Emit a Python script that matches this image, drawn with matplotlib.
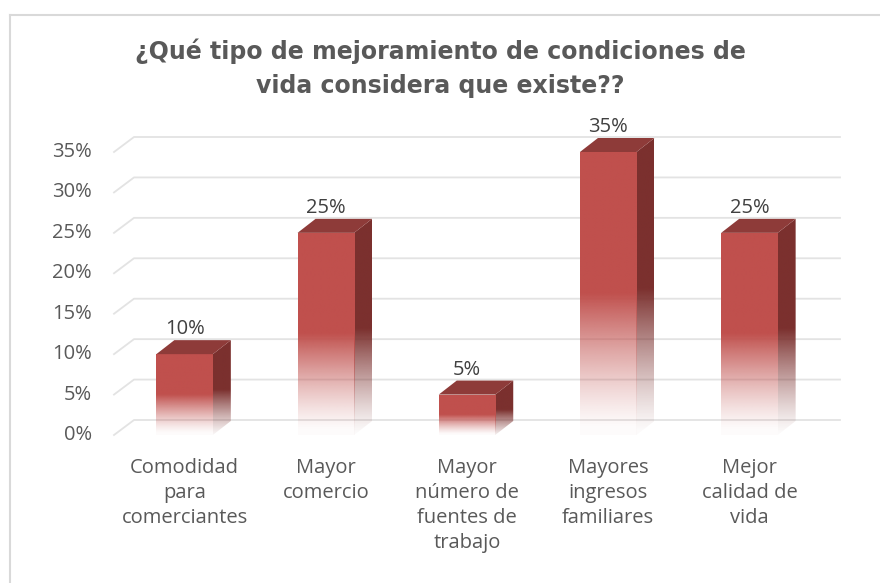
import numpy as np
import matplotlib
matplotlib.use('Agg')
import matplotlib.pyplot as plt
from matplotlib.patches import Polygon, Rectangle
from matplotlib.colors import to_rgb

categories = ["Comodidad\npara\ncomerciantes", "Mayor\ncomercio",
              "Mayor\nnúmero de\nfuentes de\ntrabajo",
              "Mayores\ningresos\nfamiliares", "Mejor\ncalidad de\nvida"]
values = [0.10, 0.25, 0.05, 0.35, 0.25]
value_labels = ["10%", "25%", "5%", "35%", "25%"]
yticks = [0, 0.05, 0.10, 0.15, 0.20, 0.25, 0.30, 0.35]
ytick_labels = ["0%", "5%", "10%", "15%", "20%", "25%", "30%", "35%"]
title = "¿Qué tipo de mejoramiento de condiciones de\nvida considera que existe??"

front_col = "#C0504D"
side_col = "#7B302E"
top_col = "#8E3B39"
grid_col = "#E3E3E3"
text_col = "#595959"

W, H = 880, 583
ymax = 0.40
ax_h = 283 * ymax / 0.35
fig = plt.figure(figsize=(W / 100, H / 100), dpi=100)
ax = fig.add_axes([114 / W, (H - 435) / H, 706 / W, ax_h / H])
ax.set_xlim(-0.5, 4.5)
ax.set_ylim(0, ymax)
ax.axis('off')

# data units per pixel
px = 5 / 706
py = 0.35 / 283
wall_dx, wall_dy = 20 * px, 15 * py
bar_dx, bar_dy = 18 * px, 14 * py
bar_w = 0.40

# back wall gridlines
for t in yticks:
    ax.plot([-0.5, -0.5 + wall_dx, 4.5 + wall_dx], [t, t + wall_dy, t + wall_dy],
            color=grid_col, lw=1.3, clip_on=False, zorder=0)


def gradient_img(color, n=200):
    r, g, b = to_rgb(color)
    f = np.linspace(0, 1, n)
    a = np.clip(f / 0.5, 0, 1) ** 1.3
    a = np.maximum(a, 0.02)
    img = np.zeros((n, 1, 4))
    img[:, 0, 0], img[:, 0, 1], img[:, 0, 2] = r, g, b
    img[:, 0, 3] = a
    return img


for i, v in enumerate(values):
    x0, x1 = i - bar_w / 2, i + bar_w / 2
    # front face
    rect = Rectangle((x0, 0), bar_w, v, transform=ax.transData)
    im = ax.imshow(gradient_img(front_col), extent=(x0, x1, 0, v), origin='lower',
                   aspect='auto', interpolation='bilinear', zorder=3)
    im.set_clip_path(rect)
    # side face
    side = Polygon([(x1, 0), (x1 + bar_dx, bar_dy), (x1 + bar_dx, v + bar_dy), (x1, v)],
                   closed=True, transform=ax.transData)
    im2 = ax.imshow(gradient_img(side_col), extent=(x1, x1 + bar_dx, -bar_dy * 0.3, v + bar_dy),
                    origin='lower', aspect='auto', interpolation='bilinear', zorder=2)
    im2.set_clip_path(side)
    # top face
    ax.add_patch(Polygon([(x0, v), (x0 + bar_dx, v + bar_dy), (x1 + bar_dx, v + bar_dy), (x1, v)],
                         closed=True, facecolor=top_col, edgecolor='none', zorder=4,
                         clip_on=False))
    ax.text(i, v + bar_dy + 1 * py, value_labels[i], ha='center', va='bottom',
            fontsize=14.5, color='#404040', family='Open Sans')

ax.set_xlim(-0.5, 4.5)
ax.set_ylim(0, ymax)

# y tick labels
for t, lab in zip(yticks, ytick_labels):
    ax.text(-0.5 - 22 * px, t, lab, ha='right', va='center', fontsize=14.5,
            color=text_col, family='Open Sans')

# category labels
for i, c in enumerate(categories):
    ax.text(i, -23 * py, c, ha='center', va='top', fontsize=14.5, color=text_col,
            family='Open Sans', linespacing=1.33)

fig.text(0.5, 1 - 68 / H, title, ha='center', va='center', fontsize=17,
         fontweight='bold', color=text_col, family='DejaVu Sans', linespacing=1.55)

# chart border (top and left edges visible)
fig.add_artist(plt.Line2D([10 / W, 1], [1 - 15 / H, 1 - 15 / H], color='#D9D9D9', lw=1.5))
fig.add_artist(plt.Line2D([10 / W, 10 / W], [0, 1 - 15 / H], color='#D9D9D9', lw=1.5))

fig.savefig("out.png", dpi=100)
